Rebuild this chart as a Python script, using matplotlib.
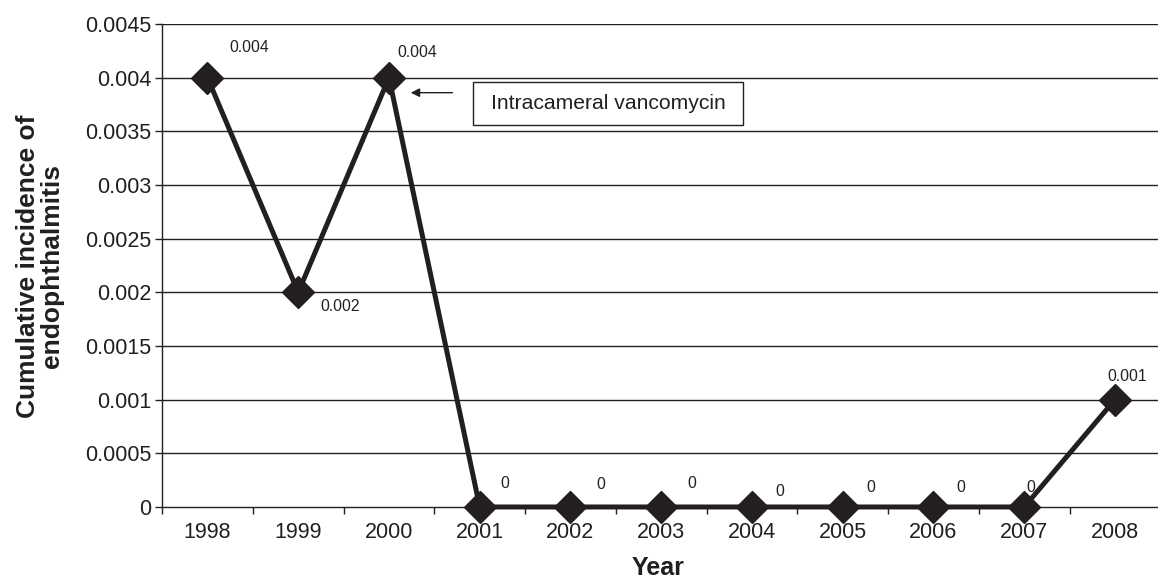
import matplotlib
matplotlib.use("Agg")
import matplotlib.pyplot as plt
from matplotlib.patches import Rectangle

years = ["1998", "1999", "2000", "2001", "2002", "2003", "2004", "2005", "2006", "2007", "2008"]
incidence = [0.004, 0.002, 0.004, 0, 0, 0, 0, 0, 0, 0, 0.001]
value_labels = ["0.004", "0.002", "0.004", "0", "0", "0", "0", "0", "0", "0", "0.001"]
yticks = [0, 0.0005, 0.001, 0.0015, 0.002, 0.0025, 0.003, 0.0035, 0.004, 0.0045]
ytick_labels = ["0", "0.0005", "0.001", "0.0015", "0.002", "0.0025", "0.003", "0.0035", "0.004", "0.0045"]

plt.rcParams['font.family'] = ['Liberation Sans', 'DejaVu Sans']
ink = "#231f20"

fig = plt.figure(figsize=(11.58, 5.81), dpi=100)
ax = fig.add_axes([0.14, 0.1274, 0.862, 0.8313])

x = list(range(len(years)))
ax.set_xlim(-0.5, len(years) - 0.5)
ax.set_ylim(0, 0.0045)

for t in yticks[1:]:
    ax.axhline(t, color=ink, lw=1.0, zorder=1)

ax.plot(x, incidence, color=ink, lw=3.6, marker='D', markersize=16,
        markerfacecolor=ink, markeredgecolor=ink, zorder=3, clip_on=False)

# data labels (offsets in points)
offsets = [(30, 22), (30, -10), (20, 18), (18, 17), (22, 16), (22, 17), (20, 11.5), (20, 14), (20, 14), (4.5, 14), (8.5, 17)]
for xi, yi, lab, off in zip(x, incidence, value_labels, offsets):
    ax.annotate(lab, (xi, yi), xytext=off, textcoords='offset points',
                ha='center', va='center', fontsize=11.3, color=ink, zorder=4)

ax.set_yticks(yticks)
ax.set_yticklabels(ytick_labels, fontsize=15.5, color=ink)
ax.set_xticks(x)
ax.set_xticklabels(years, fontsize=15.5, color=ink)
ax.set_xticks([i - 0.5 for i in range(len(years) + 1)], minor=True)
ax.tick_params(axis='x', which='major', length=0, pad=11)
ax.tick_params(axis='x', which='minor', length=5, width=1, color=ink, direction='out')
ax.tick_params(axis='y', length=5, width=1, color=ink, direction='out', pad=3)

for s in ['top', 'right']:
    ax.spines[s].set_visible(False)
for s in ['left', 'bottom']:
    ax.spines[s].set_color(ink)
    ax.spines[s].set_linewidth(1.0)

fig.text(658 / 1158, 1 - 568 / 581, "Year", fontsize=18, fontweight='bold', color=ink,
         ha='center', va='center')
fig.text(40 / 1158, 1 - 266.5 / 581, "Cumulative incidence of\nendophthalmitis", fontsize=19,
         fontweight='bold', color=ink, ha='center', va='center', rotation=90,
         linespacing=1.05, multialignment='center')

# annotation arrow + box
ax.annotate("", xy=(2.24, 0.00386), xytext=(2.70, 0.00386),
            arrowprops=dict(arrowstyle='-|>', color=ink, lw=1.0, mutation_scale=13,
                            shrinkA=0, shrinkB=0), zorder=5)
ax.add_patch(Rectangle((2.93, 0.003562), 2.976, 0.000401, facecolor='white',
                       edgecolor=ink, lw=1.0, zorder=5))
ax.text(4.42, 0.003762, "Intracameral vancomycin", fontsize=15.2, color=ink,
        va='center', ha='center', zorder=6)

fig.savefig("out.png", dpi=100)
